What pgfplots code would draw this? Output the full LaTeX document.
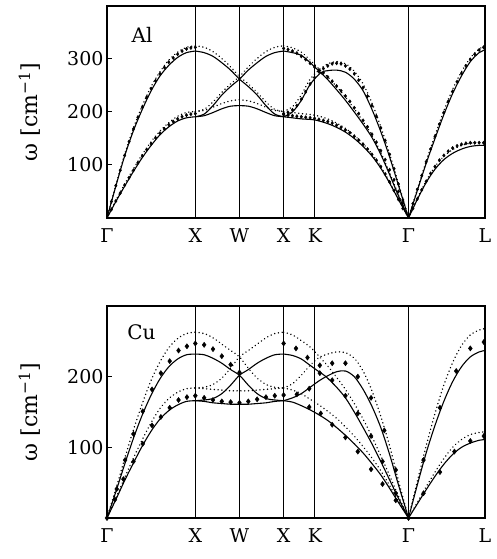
\documentclass[border=0pt]{standalone}
\usepackage{fontspec}
\setmainfont{DejaVu Serif}
\usepackage{pgfplots}
\pgfplotsset{compat=1.18}

\pgfplotsset{
  panel/.style={
    width=378pt, height=212pt, scale only axis,
    xmin=0, xmax=4.2802, ymin=0,
    xtick={0,1,1.5,2,2.3536,3.4142,4.2802},
    xticklabels={Γ,X,W,X,K,Γ,L},
    xmajorgrids, major grid style={black, line width=1pt},
    x tick style={draw=none},
    ytick pos=left, y tick style={black, line width=1pt},
    major tick length=5pt,
    axis line style={line width=1.4pt},
    tick label style={font=\fontsize{19}{22}\selectfont},
    xticklabel style={yshift=-7pt},
    /pgf/number format/assume math mode=true,
    ylabel={ω [cm\textsuperscript{−1}]},
    ylabel style={font=\fontsize{22}{26}\selectfont, at={(axis description cs:-0.205,0.5)}, anchor=center},
  },
  sol/.style={black, line width=1.1pt, smooth, no markers},
  dot/.style={black, line width=1.6pt, dash pattern=on 0.01pt off 3.8pt, line cap=round, smooth, no markers},
  dia/.style={black, only marks, mark=diamond*, mark size=#1},
  dia/.default=1.7pt,
}

\begin{document}
\begin{tikzpicture}
% ---------------- Al ----------------
\begin{axis}[panel, ymax=400, ytick={100,200,300}]
% Gamma - X
\addplot[sol] coordinates {(0,0)(0.1,60)(0.2,117)(0.3,165)(0.4,205)(0.5,240)(0.6,268)(0.7,288)(0.8,303)(0.9,312)(1,315)};
\addplot[sol] coordinates {(0,0)(0.1,31)(0.2,60)(0.3,88)(0.4,114)(0.5,137)(0.6,157)(0.7,172)(0.8,183)(0.9,189)(1,191)};
\addplot[dot] coordinates {(0,0)(0.1,62)(0.2,120)(0.3,170)(0.4,212)(0.5,248)(0.6,276)(0.7,298)(0.8,313)(0.9,322)(1,325)};
\addplot[dot] coordinates {(0,0)(0.1,33)(0.2,64)(0.3,93)(0.4,120)(0.5,144)(0.6,164)(0.7,180)(0.8,192)(0.9,199)(1,201)};
% X - W - X
\addplot[sol] coordinates {(1,315)(1.1,312)(1.2,305)(1.3,293)(1.4,279)(1.5,262)(1.6,248)(1.7,232)(1.8,212)(1.9,196)(2,191)};
\addplot[sol] coordinates {(1,191)(1.1,196)(1.2,212)(1.3,232)(1.4,248)(1.5,262)(1.6,279)(1.7,293)(1.8,305)(1.9,312)(2,315)};
\addplot[sol] coordinates {(1,191)(1.1,193)(1.2,199)(1.3,206)(1.4,211)(1.5,212)(1.6,211)(1.7,206)(1.8,199)(1.9,193)(2,191)};
\addplot[dot] coordinates {(1,325)(1.1,322)(1.2,314)(1.3,301)(1.4,285)(1.5,267)(1.6,253)(1.7,237)(1.8,219)(1.9,205)(2,201)};
\addplot[dot] coordinates {(1,201)(1.1,205)(1.2,219)(1.3,237)(1.4,253)(1.5,267)(1.6,285)(1.7,301)(1.8,314)(1.9,322)(2,325)};
\addplot[dot] coordinates {(1,201)(1.1,203)(1.2,209)(1.3,216)(1.4,221)(1.5,223)(1.6,221)(1.7,216)(1.8,209)(1.9,203)(2,201)};
% X - K - Gamma
\addplot[sol] coordinates {(2,315)(2.1,312)(2.2,307)(2.3,293)(2.42,274)(2.5,261)(2.6,242)(2.7,222)(2.8,200)(2.9,177)(3,152)(3.1,120)(3.2,82)(3.3,42)(3.4142,0)};
\addplot[sol] coordinates {(2,191)(2.1,200)(2.2,222)(2.3,252)(2.42,274)(2.5,278)(2.6,279)(2.7,275)(2.8,262)(2.9,240)(3,205)(3.1,163)(3.2,115)(3.3,62)(3.4142,0)};
\addplot[sol] coordinates {(2,191)(2.1,189)(2.2,187)(2.3536,185)(2.5,178)(2.6,171)(2.7,162)(2.8,150)(2.9,135)(3,117)(3.1,94)(3.2,66)(3.3,35)(3.4142,0)};
\addplot[dot] coordinates {(2,325)(2.1,321)(2.2,313)(2.3,298)(2.42,278)(2.5,266)(2.6,248)(2.7,228)(2.8,206)(2.9,182)(3,156)(3.1,124)(3.2,85)(3.3,44)(3.4142,0)};
\addplot[dot] coordinates {(2,201)(2.1,210)(2.2,232)(2.3,262)(2.42,282)(2.5,291)(2.6,295)(2.7,291)(2.8,277)(2.9,253)(3,217)(3.1,172)(3.2,121)(3.3,65)(3.4142,0)};
\addplot[dot] coordinates {(2,201)(2.1,199)(2.2,197)(2.3536,194)(2.5,187)(2.6,179)(2.7,169)(2.8,156)(2.9,140)(3,121)(3.1,97)(3.2,68)(3.3,36)(3.4142,0)};
% Gamma - L
\addplot[sol] coordinates {(3.4142,0)(3.514,52)(3.614,103)(3.714,150)(3.814,195)(3.914,235)(4.014,268)(4.114,295)(4.214,312)(4.2802,317)};
\addplot[sol] coordinates {(3.4142,0)(3.514,35)(3.614,67)(3.714,92)(3.814,110)(3.914,122)(4.014,130)(4.114,135)(4.214,137)(4.2802,137)};
\addplot[dot] coordinates {(3.4142,0)(3.514,54)(3.614,107)(3.714,156)(3.814,202)(3.914,243)(4.014,276)(4.114,302)(4.214,319)(4.2802,325)};
\addplot[dot] coordinates {(3.4142,0)(3.514,37)(3.614,70)(3.714,97)(3.814,116)(3.914,129)(4.014,137)(4.114,141)(4.214,142)(4.2802,142)};
% measured points
\addplot[dia] coordinates {(0.05,31)(0.1,61)(0.15,90)(0.2,118)(0.25,144)(0.3,168)(0.35,190)(0.4,209)(0.45,228)(0.5,244)(0.55,259)(0.6,272)(0.65,284)(0.7,294)(0.75,302)(0.8,309)(0.85,315)(0.9,319)(0.95,321)(1,322)};
\addplot[dia] coordinates {(0.05,16)(0.1,32)(0.15,47)(0.2,62)(0.25,76)(0.3,90)(0.35,104)(0.4,117)(0.45,129)(0.5,140)(0.55,151)(0.6,160)(0.65,168)(0.7,176)(0.75,182)(0.8,187)(0.85,191)(0.9,194)(0.95,196)(1,197)};
\addplot[dia] coordinates {(2,320)(2.05,318)(2.1,315)(2.15,311)(2.2,305)(2.25,299)(2.3,292)(2.35,285)(2.4,279)(2.45,274)(2.5,266)(2.55,258)(2.6,249)(2.65,240)(2.7,230)(2.75,220)(2.8,208)(2.85,197)(2.9,184)(2.95,172)(3,158)(3.05,143)(3.1,127)(3.15,110)(3.2,91)(3.25,72)(3.3,50)(3.35,28)};
\addplot[dia] coordinates {(2,197)(2.05,199)(2.1,204)(2.15,212)(2.2,224)(2.25,238)(2.3,253)(2.35,265)(2.4,276)(2.45,282)(2.5,287)(2.55,291)(2.6,292)(2.65,291)(2.7,287)(2.75,281)(2.8,272)(2.85,260)(2.9,246)(2.95,230)(3,212)(3.05,192)(3.1,170)(3.15,146)(3.2,120)(3.25,93)(3.3,64)(3.35,34)};
\addplot[dia] coordinates {(2,195)(2.05,194)(2.1,193)(2.15,192)(2.2,191)(2.25,190)(2.3,189)(2.35,188)(2.4,186)(2.45,184)(2.5,182)(2.55,179)(2.6,175)(2.65,171)(2.7,166)(2.75,161)(2.8,154)(2.85,147)(2.9,139)(2.95,130)(3,120)(3.05,109)(3.1,97)(3.15,83)(3.2,68)(3.25,52)(3.3,35)(3.35,18)};
\addplot[dia] coordinates {(3.464,27)(3.514,54)(3.564,80)(3.614,106)(3.664,130)(3.714,154)(3.764,177)(3.814,199)(3.864,220)(3.914,239)(3.964,257)(4.014,273)(4.064,287)(4.114,299)(4.164,309)(4.214,317)(4.264,322)};
\addplot[dia] coordinates {(3.464,18)(3.514,36)(3.564,53)(3.614,69)(3.664,84)(3.714,97)(3.764,109)(3.814,118)(3.864,126)(3.914,132)(3.964,136)(4.014,139)(4.064,141)(4.114,142)(4.164,142)(4.214,142)(4.264,142)};
\node[anchor=west, font=\fontsize{20}{24}\selectfont] at (axis cs:0.24,345) {Al};
\end{axis}

% ---------------- Cu ----------------
\begin{axis}[panel, at={(0,-300pt)}, ymax=300, ytick={100,200}]
% Gamma - X
\addplot[sol] coordinates {(0,0)(0.1,37)(0.2,76)(0.3,113)(0.4,146)(0.5,174)(0.6,197)(0.7,214)(0.8,225)(0.9,231)(1,232)};
\addplot[sol] coordinates {(0,0)(0.1,26)(0.2,53)(0.3,78)(0.4,102)(0.5,123)(0.6,140)(0.7,152)(0.8,160)(0.9,165)(1,166)};
\addplot[dot] coordinates {(0,0)(0.1,41)(0.2,84)(0.3,125)(0.4,162)(0.5,195)(0.6,221)(0.7,241)(0.8,254)(0.9,261)(1,263)};
\addplot[dot] coordinates {(0,0)(0.1,28)(0.2,57)(0.3,85)(0.4,111)(0.5,135)(0.6,155)(0.7,169)(0.8,178)(0.9,183)(1,184)};
% X - W - X
\addplot[sol] coordinates {(1,232)(1.1,231)(1.2,226)(1.3,219)(1.4,210)(1.5,202)(1.6,188)(1.7,176)(1.8,169)(1.9,167)(2,166)};
\addplot[sol] coordinates {(1,166)(1.1,167)(1.2,169)(1.3,176)(1.4,188)(1.5,202)(1.6,210)(1.7,219)(1.8,226)(1.9,231)(2,232)};
\addplot[sol] coordinates {(1,166)(1.1,165)(1.2,163)(1.3,162)(1.4,161)(1.5,161)(1.6,161)(1.7,162)(1.8,163)(1.9,165)(2,166)};
\addplot[dot] coordinates {(1,263)(1.1,261)(1.2,255)(1.3,246)(1.4,237)(1.5,228)(1.6,212)(1.7,198)(1.8,189)(1.9,185)(2,184)};
\addplot[dot] coordinates {(1,184)(1.1,185)(1.2,189)(1.3,198)(1.4,212)(1.5,228)(1.6,237)(1.7,246)(1.8,255)(1.9,261)(2,263)};
\addplot[dot] coordinates {(1,184)(1.1,183)(1.2,182)(1.3,181)(1.4,180)(1.5,180)(1.6,180)(1.7,181)(1.8,182)(1.9,183)(2,184)};
% X - K - Gamma
\addplot[sol] coordinates {(2,232)(2.1,230)(2.2,225)(2.3,216)(2.4,207)(2.48,200)(2.6,185)(2.7,170)(2.8,150)(2.9,128)(3,105)(3.1,80)(3.2,54)(3.3,28)(3.4142,0)};
\addplot[sol] coordinates {(2,166)(2.1,170)(2.2,176)(2.3,185)(2.4,194)(2.48,200)(2.6,207)(2.7,208)(2.8,200)(2.9,182)(3,158)(3.1,128)(3.2,90)(3.3,47)(3.4142,0)};
\addplot[sol] coordinates {(2,166)(2.1,164)(2.2,159)(2.3,153)(2.4,146)(2.5,138)(2.6,128)(2.7,117)(2.8,105)(2.9,92)(3,77)(3.1,61)(3.2,42)(3.3,22)(3.4142,0)};
\addplot[dot] coordinates {(2,263)(2.1,259)(2.2,251)(2.3,242)(2.4,229)(2.5,215)(2.6,199)(2.7,182)(2.8,162)(2.9,140)(3,115)(3.1,88)(3.2,60)(3.3,31)(3.4142,0)};
\addplot[dot] coordinates {(2,184)(2.1,190)(2.2,202)(2.3,216)(2.4,227)(2.5,232)(2.6,235)(2.7,234)(2.8,226)(2.9,208)(3,180)(3.1,144)(3.2,102)(3.3,53)(3.4142,0)};
\addplot[dot] coordinates {(2,184)(2.1,181)(2.2,176)(2.3,168)(2.4,160)(2.5,151)(2.6,141)(2.7,129)(2.8,116)(2.9,101)(3,85)(3.1,67)(3.2,46)(3.3,24)(3.4142,0)};
% Gamma - L
\addplot[sol] coordinates {(3.4142,0)(3.514,47)(3.614,92)(3.714,131)(3.814,165)(3.914,193)(4.014,214)(4.114,228)(4.214,235)(4.2802,237)};
\addplot[sol] coordinates {(3.4142,0)(3.514,20)(3.614,40)(3.714,59)(3.814,76)(3.914,90)(4.014,100)(4.114,106)(4.214,110)(4.2802,111)};
\addplot[dot] coordinates {(3.4142,0)(3.514,52)(3.614,102)(3.714,148)(3.814,188)(3.914,220)(4.014,244)(4.114,259)(4.214,266)(4.2802,268)};
\addplot[dot] coordinates {(3.4142,0)(3.514,22)(3.614,44)(3.714,65)(3.814,84)(3.914,100)(4.014,111)(4.114,118)(4.214,121)(4.2802,122)};
% measured points
\addplot[dia=2.6pt] coordinates {(0,0)(0.11,41)(0.205,82)(0.3,119)(0.405,151)(0.51,182)(0.61,205)(0.71,222)(0.81,237)(0.905,243)(1,247)(1.1,245)(1.2,239)(1.3,229)(1.4,217)(1.5,206)};
\addplot[dia=2.6pt] coordinates {(0.09,26)(0.186,55)(0.3,80)(0.405,105)(0.51,131)(0.61,143)(0.71,156)(0.81,167)(0.905,171)(1,173)(1.1,170)(1.2,167)(1.3,165)(1.4,164)(1.5,163)(1.6,165)(1.7,168)(1.8,171)(1.9,173)(2,174)};
\addplot[dia=2.6pt] coordinates {(2,247)(2.14,240)(2.27,227)(2.41,205)(2.55,195)(2.7,173)(2.84,148)(2.99,116)(3.12,80)(3.27,35)(3.4142,0)};
\addplot[dia=2.6pt] coordinates {(2.15,175)(2.29,183)(2.41,216)(2.55,219)(2.7,219)(2.84,200)(2.99,170)(3.14,124)(3.27,68)};
\addplot[dia=2.6pt] coordinates {(2.29,157)(2.42,148)(2.55,132)(2.7,114)(2.84,94)(2.99,69)(3.12,48)(3.27,25)};
\addplot[dia=2.6pt] coordinates {(3.584,82)(3.77,156)(3.954,208)(4.114,240)(4.267,249)};
\addplot[dia=2.6pt] coordinates {(3.584,35)(3.77,65)(3.934,94)(4.114,109)(4.267,116)};
\node[anchor=west, font=\fontsize{20}{24}\selectfont] at (axis cs:0.19,263) {Cu};
\end{axis}
\pgfresetboundingbox
\path[use as bounding box] (-107pt,218pt) rectangle (390pt,-341pt);
\end{tikzpicture}
\end{document}
